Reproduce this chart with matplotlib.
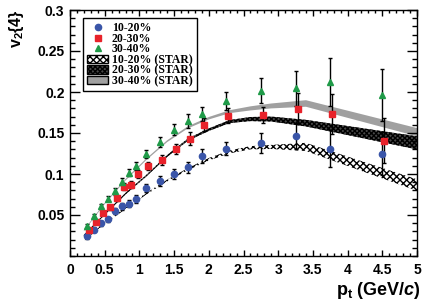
import numpy as np
import matplotlib
matplotlib.use("Agg")
import matplotlib.pyplot as plt
from matplotlib.lines import Line2D
from matplotlib.patches import Patch
from matplotlib.ticker import MultipleLocator, FixedLocator

plt.rcParams['font.family'] = ['Liberation Sans', 'DejaVu Sans']
plt.rcParams['font.weight'] = 'bold'
plt.rcParams['mathtext.fontset'] = 'custom'
plt.rcParams['mathtext.rm'] = 'Liberation Sans:bold'
plt.rcParams['mathtext.bf'] = 'Liberation Sans:bold'
plt.rcParams['mathtext.it'] = 'Liberation Sans:bold:italic'
plt.rcParams['hatch.linewidth'] = 1.0

# ---- data: measured points ----
pt_blue = [0.25, 0.35, 0.45, 0.55, 0.65, 0.75, 0.85, 0.95, 1.1, 1.3, 1.5, 1.7, 1.9, 2.25, 2.75, 3.25, 3.75, 4.5]
v2_blue = [0.024, 0.032, 0.040, 0.045, 0.055, 0.0605, 0.064, 0.0697, 0.083, 0.0915, 0.100, 0.108, 0.122, 0.131, 0.138, 0.146, 0.131, 0.125]
err_blue = [0.003, 0.003, 0.003, 0.003, 0.004, 0.004, 0.004, 0.005, 0.005, 0.006, 0.006, 0.007, 0.008, 0.008, 0.012, 0.016, 0.023, 0.026]

pt_red = [0.28, 0.38, 0.48, 0.58, 0.68, 0.78, 0.88, 0.98, 1.13, 1.33, 1.53, 1.73, 1.93, 2.28, 2.78, 3.28, 3.78, 4.53]
v2_red = [0.0315, 0.0415, 0.0524, 0.0593, 0.0705, 0.0847, 0.087, 0.0996, 0.110, 0.117, 0.131, 0.143, 0.160, 0.171, 0.172, 0.1795, 0.173, 0.1407]
err_red = [0.003, 0.003, 0.003, 0.003, 0.004, 0.004, 0.004, 0.005, 0.005, 0.006, 0.006, 0.008, 0.008, 0.009, 0.010, 0.019, 0.024, 0.027]

pt_green = [0.25, 0.35, 0.45, 0.55, 0.65, 0.75, 0.85, 0.95, 1.1, 1.3, 1.5, 1.7, 1.9, 2.25, 2.75, 3.25, 3.75, 4.5]
v2_green = [0.0363, 0.0484, 0.0605, 0.0697, 0.079, 0.0907, 0.1016, 0.1096, 0.124, 0.1387, 0.154, 0.1646, 0.1734, 0.1895, 0.2016, 0.2045, 0.2125, 0.1964]
err_green = [0.003, 0.003, 0.003, 0.003, 0.004, 0.004, 0.004, 0.005, 0.005, 0.006, 0.007, 0.008, 0.0085, 0.011, 0.015, 0.021, 0.029, 0.032]

# ---- data: STAR bands ----
pt_star = [0.2, 0.5, 0.8, 1.1, 1.4, 1.7, 2.0, 2.3, 2.6, 2.9, 3.4, 5.0]
star_1020 = [0.019, 0.040, 0.058, 0.076, 0.092, 0.106, 0.118, 0.127, 0.132, 0.133, 0.133, 0.0865]
star_1020_hw = [0.0008, 0.0008, 0.0009, 0.001, 0.0011, 0.0013, 0.0015, 0.0018, 0.002, 0.0025, 0.005, 0.007]
star_2030 = [0.025, 0.051, 0.076, 0.098, 0.122, 0.142, 0.154, 0.164, 0.167, 0.167, 0.162, 0.138]
star_2030_hw = [0.0008, 0.0008, 0.0009, 0.001, 0.0011, 0.0013, 0.0015, 0.0018, 0.0025, 0.003, 0.004, 0.008]
star_3040 = [0.031, 0.064, 0.093, 0.118, 0.140, 0.157, 0.168, 0.176, 0.180, 0.183, 0.186, 0.151]
star_3040_hw = [0.0008, 0.0008, 0.0009, 0.001, 0.0011, 0.0013, 0.0015, 0.0018, 0.0025, 0.003, 0.004, 0.005]

labels = ['10-20%', '20-30%', '30-40%', '10-20% (STAR)', '20-30% (STAR)', '30-40% (STAR)']

c_blue = '#3a55a8'
c_red = '#e8222a'
c_green = '#1f9a48'

fig = plt.figure(figsize=(4.24, 3.07), dpi=100)
ax = fig.add_axes([70/424, 1-256/307, 347/424, 246/307])

pts = np.array(pt_star)

def band(c, hw):
    c = np.array(c); hw = np.array(hw)
    return c - hw, c + hw

hatch_light = 'x' * 5
hatch_dark = 'x' * 7
face_dark = '#484848'

lo, hi = band(star_3040, star_3040_hw)
ax.fill_between(pts, lo, hi, facecolor='#a0a0a0', edgecolor='none', zorder=1)
lo, hi = band(star_2030, star_2030_hw)
ax.fill_between(pts, lo, hi, facecolor=face_dark, edgecolor='black', hatch=hatch_dark, linewidth=0, zorder=1)
lo, hi = band(star_1020, star_1020_hw)
ax.fill_between(pts, lo, hi, facecolor='white', edgecolor='black', hatch=hatch_light, linewidth=0, zorder=1)

ekw = dict(linestyle='none', ecolor='black', elinewidth=1.0, capsize=1.5, capthick=1.0, zorder=3)
ax.errorbar(pt_blue, v2_blue, yerr=err_blue, marker='o', ms=4.5, mfc=c_blue, mec=c_blue, **ekw)
ax.errorbar(pt_red, v2_red, yerr=err_red, marker='s', ms=4.8, mfc=c_red, mec=c_red, **ekw)
ax.errorbar(pt_green, v2_green, yerr=err_green, marker='^', ms=5.0, mfc=c_green, mec=c_green, **ekw)

ax.set_xlim(0, 5)
ax.set_ylim(0, 0.3)
ax.xaxis.set_minor_locator(MultipleLocator(0.1))
ax.yaxis.set_major_locator(FixedLocator([0.05, 0.1, 0.15, 0.2, 0.25, 0.3]))
ax.yaxis.set_minor_locator(MultipleLocator(0.01))
ax.set_xticks([0, 0.5, 1, 1.5, 2, 2.5, 3, 3.5, 4, 4.5, 5])
ax.set_xticklabels(['0', '0.5', '1', '1.5', '2', '2.5', '3', '3.5', '4', '4.5', '5'])
ax.set_yticklabels(['0.05', '0.1', '0.15', '0.2', '0.25', '0.3'])
ax.tick_params(which='both', direction='in', top=True, right=True, width=1.0,
               labelsize=10)
ax.tick_params(axis='x', which='major', length=4.3, pad=5)
ax.tick_params(axis='x', which='minor', length=2.2)
ax.tick_params(axis='y', which='major', length=7.2, pad=4)
ax.tick_params(axis='y', which='minor', length=3.6)
for lab in ax.get_xticklabels() + ax.get_yticklabels():
    lab.set_fontweight('bold')
for s in ax.spines.values():
    s.set_linewidth(1.0)

fig.text(421/424, 1-295/307, r'p$_\mathrm{t}$ (GeV/$c$)', ha='right', va='baseline',
         fontsize=13, fontweight='bold')
fig.text(7/424, 1-9/307, r'v$_\mathrm{2}${4}', rotation=90, ha='left', va='top',
         fontsize=11.5, fontweight='bold')

handles = [
    Line2D([], [], linestyle='none', marker='o', ms=4.5, mfc=c_blue, mec=c_blue),
    Line2D([], [], linestyle='none', marker='s', ms=4.8, mfc=c_red, mec=c_red),
    Line2D([], [], linestyle='none', marker='^', ms=5.0, mfc=c_green, mec=c_green),
    Patch(facecolor='white', edgecolor='black', hatch=hatch_light, linewidth=1.0),
    Patch(facecolor=face_dark, edgecolor='black', hatch=hatch_dark, linewidth=1.0),
    Patch(facecolor='#a0a0a0', edgecolor='black', linewidth=1.0),
]

leg = ax.legend(handles, labels, loc='upper left', bbox_to_anchor=(0.037, 0.967),
                borderaxespad=0, frameon=True, fancybox=False, framealpha=1,
                edgecolor='black', prop={'family': 'Liberation Serif', 'size': 8.5},
                labelspacing=-0.12, handlelength=1.8, handleheight=0.7,
                handletextpad=0.3, borderpad=0.35)
leg.get_frame().set_linewidth(1.0)

fig.savefig('out.png', dpi=100)
